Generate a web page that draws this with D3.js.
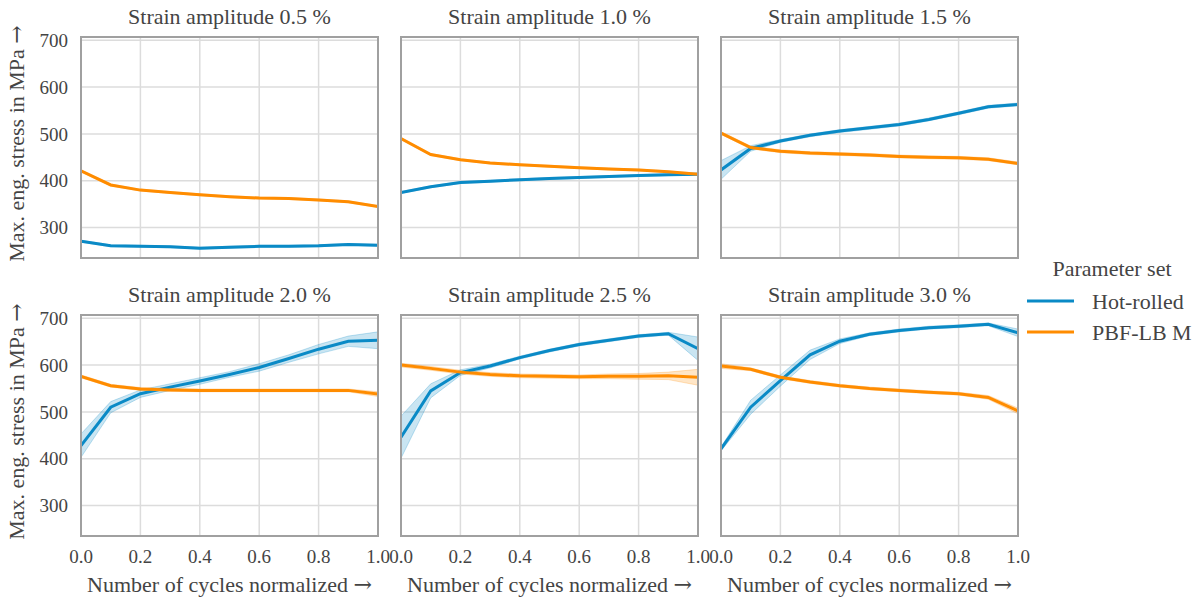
<!DOCTYPE html>
<html>
<head>
  <meta charset="utf-8">
  <script src="https://d3js.org/d3.v7.min.js"></script>
  <style>
    body { margin: 0; background: #fff; }
    text { font-family: 'Liberation Serif', 'Times New Roman', 'DejaVu Serif', serif; fill: #444; }
    .arrow { font-family: 'DejaVu Serif', serif; }
  </style>
</head>
<body>
<div id="chart"></div>
<script>
// normalized cycle positions
const cycles = [0, 0.1, 0.2, 0.3, 0.4, 0.5, 0.6, 0.7, 0.8, 0.9, 1.0];
const amplitudes = ['0.5', '1.0', '1.5', '2.0', '2.5', '3.0'];
const seriesNames = ['Hot-rolled', 'PBF-LB M'];
const yTicks = [300, 400, 500, 600, 700];
const xTicks = [0, 0.2, 0.4, 0.6, 0.8, 1.0];

// mean max. stress per amplitude (MPa)
const hotRolled = [
  [271, 261, 260, 259, 256, 258, 260, 260, 261, 264, 262],
  [375, 387, 396, 399, 402, 405, 407, 409, 411, 413, 414],
  [423, 469, 485, 497, 506, 513, 520, 531, 544, 558, 563],
  [428, 510, 539, 553, 566, 580, 595, 614, 634, 651, 653],
  [446, 545, 584, 598, 616, 631, 644, 653, 662, 667, 635],
  [421, 510, 567, 622, 651, 666, 674, 680, 683, 687, 669]
];
const pbfLb = [
  [421, 391, 380, 375, 370, 366, 363, 362, 359, 355, 345],
  [490, 456, 445, 438, 434, 431, 428, 425, 423, 419, 414],
  [502, 471, 463, 459, 457, 455, 452, 450, 449, 446, 437],
  [576, 556, 549, 547, 546, 546, 546, 546, 546, 546, 538],
  [600, 593, 585, 580, 577, 576, 575, 576, 576, 577, 574],
  [598, 591, 574, 564, 556, 550, 546, 542, 539, 531, 502]
];
// confidence band half-widths (MPa)
const hotRolledCi = [
  [2, 2, 2, 2, 2, 2, 2, 2, 2, 2, 2],
  [2, 2, 2, 2, 2, 2, 2, 2, 2, 2, 2],
  [20, 6, 3, 3, 3, 3, 3, 3, 3, 3, 3],
  [25, 12, 8, 7, 7, 6, 8, 8, 10, 11, 18],
  [45, 15, 6, 4, 3, 3, 3, 3, 3, 3, 25],
  [4, 15, 12, 10, 5, 3, 3, 3, 3, 3, 8]
];
const pbfLbCi = [
  [2, 2, 2, 2, 2, 2, 2, 2, 2, 2, 2],
  [2, 2, 2, 2, 2, 2, 2, 2, 2, 2, 2],
  [3, 3, 3, 3, 3, 3, 3, 3, 3, 3, 3],
  [3, 3, 3, 3, 3, 3, 3, 3, 3, 3, 5],
  [4, 4, 4, 4, 4, 4, 4, 5, 6, 8, 17],
  [5, 3, 3, 3, 3, 3, 3, 3, 3, 4, 6]
];

const colors = ['#0a8ac6', '#ff8c00'];

const W = 1204, H = 598;
const pw = 297, ph = 221;
const lefts = [81, 401, 721];
const tops = [37, 315];

const svg = d3.select('#chart').append('svg')
  .attr('width', W).attr('height', H);

const x = d3.scaleLinear().domain([0, 1]).range([0, pw]);
const y = d3.scaleLinear().domain([235, 707]).range([ph, 0]);

const line = d3.line().x((d) => x(d.x)).y((d) => y(d.v));
const area = d3.area().x((d) => x(d.x)).y0((d) => y(d.v - d.ci)).y1((d) => y(d.v + d.ci));

// label with a wider arrow glyph
const arrowLabel = (sel, txt) => {
  sel.append('tspan').text(txt + ' ');
  sel.append('tspan').attr('class', 'arrow').text('\u2192');
};

amplitudes.forEach((amp, i) => {
  const row = Math.floor(i / 3), col = i % 3;
  const g = svg.append('g')
    .attr('transform', `translate(${lefts[col]},${tops[row]})`);

  // grid
  g.selectAll('.gx').data(xTicks).enter().append('line')
    .attr('x1', (d) => x(d)).attr('x2', (d) => x(d))
    .attr('y1', 0).attr('y2', ph)
    .attr('stroke', '#dcdcdc').attr('stroke-width', 1.5);
  g.selectAll('.gy').data(yTicks).enter().append('line')
    .attr('x1', 0).attr('x2', pw)
    .attr('y1', (d) => y(d)).attr('y2', (d) => y(d))
    .attr('stroke', '#dcdcdc').attr('stroke-width', 1.5);

  const sets = [
    { vals: hotRolled[i], ci: hotRolledCi[i] },
    { vals: pbfLb[i], ci: pbfLbCi[i] }
  ];
  const clipId = 'clip' + i;
  g.append('clipPath').attr('id', clipId)
    .append('rect').attr('width', pw).attr('height', ph);
  const plot = g.append('g').attr('clip-path', `url(#${clipId})`);

  sets.forEach((s, k) => {
    const pts = cycles.map((c, j) => ({ x: c, v: s.vals[j], ci: s.ci[j] }));
    plot.append('path').datum(pts)
      .attr('d', area)
      .attr('fill', colors[k]).attr('fill-opacity', 0.22)
      .attr('stroke', colors[k]).attr('stroke-opacity', 0.25).attr('stroke-width', 1);
  });
  sets.forEach((s, k) => {
    const pts = cycles.map((c, j) => ({ x: c, v: s.vals[j] }));
    plot.append('path').datum(pts)
      .attr('d', line)
      .attr('fill', 'none')
      .attr('stroke', colors[k]).attr('stroke-width', 3);
  });

  // frame
  g.append('rect').attr('width', pw).attr('height', ph)
    .attr('fill', 'none').attr('stroke', '#a0a0a0').attr('stroke-width', 2);

  // title
  g.append('text')
    .attr('x', pw / 2).attr('y', -13)
    .attr('text-anchor', 'middle')
    .style('font-size', '22px')
    .text(`Strain amplitude ${amp} %`);

  if (col === 0) {
    g.selectAll('.yt').data(yTicks).enter().append('text')
      .attr('x', -13).attr('y', (d) => y(d))
      .attr('dy', '0.35em')
      .attr('text-anchor', 'end')
      .style('font-size', '19px')
      .text((d) => d);
    g.append('text')
      .attr('transform', `translate(-57,${ph / 2 - 4}) rotate(-90)`)
      .attr('text-anchor', 'middle')
      .style('font-size', '22px')
      .call(arrowLabel, 'Max. eng. stress in MPa');
  }
  if (row === 1) {
    g.selectAll('.xt').data(xTicks).enter().append('text')
      .attr('x', (d) => x(d)).attr('y', ph + 27)
      .attr('text-anchor', 'middle')
      .style('font-size', '19px')
      .text((d) => d.toFixed(1));
    g.append('text')
      .attr('x', pw / 2).attr('y', ph + 56)
      .attr('text-anchor', 'middle')
      .style('font-size', '22px')
      .call(arrowLabel, 'Number of cycles normalized');
  }
});

// legend
const lg = svg.append('g').attr('transform', 'translate(1027,276)');
lg.append('text')
  .attr('x', 85).attr('y', 0)
  .attr('text-anchor', 'middle')
  .style('font-size', '22px')
  .text('Parameter set');
seriesNames.forEach((name, k) => {
  lg.append('line')
    .attr('x1', 0).attr('x2', 47)
    .attr('y1', 25 + k * 31).attr('y2', 25 + k * 31)
    .attr('stroke', colors[k]).attr('stroke-width', 3);
  lg.append('text')
    .attr('x', 65).attr('y', 25 + k * 31)
    .attr('dy', '0.35em')
    .style('font-size', '22px')
    .text(name);
});
</script>
</body>
</html>
